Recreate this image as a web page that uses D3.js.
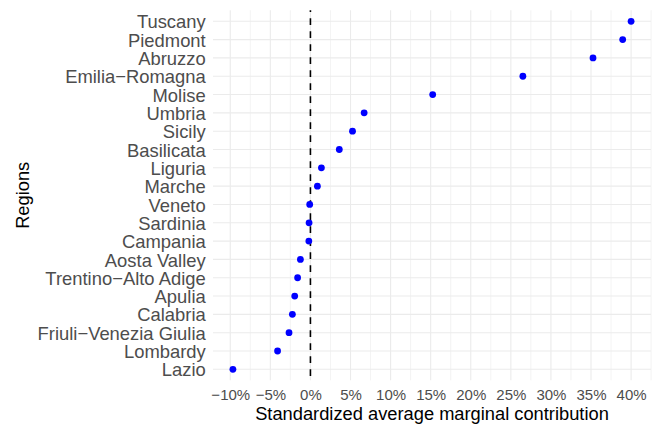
<!DOCTYPE html>
<html>
<head>
<meta charset="utf-8">
<script src="https://cdn.jsdelivr.net/npm/d3@7"></script>
<style>
  body { margin: 0; background: #fff; }
  text { font-family: "Liberation Sans", Arial, sans-serif; }
</style>
</head>
<body>
<svg width="657" height="427"></svg>
<script>
// regions, top to bottom
var regions = ["Tuscany", "Piedmont", "Abruzzo", "Emilia\u2212Romagna", "Molise", "Umbria",
  "Sicily", "Basilicata", "Liguria", "Marche", "Veneto", "Sardinia", "Campania",
  "Aosta Valley", "Trentino\u2212Alto Adige", "Apulia", "Calabria",
  "Friuli\u2212Venezia Giulia", "Lombardy", "Lazio"];

// standardized average marginal contribution (%)
var contribution = [40.0, 38.95, 35.25, 26.5, 15.25, 6.7, 5.25, 3.6, 1.37, 0.87,
  -0.09, -0.17, -0.2, -1.25, -1.6, -1.96, -2.25, -2.67, -4.1, -9.67];

// x axis ticks (%)
var xTicks = [-10, -5, 0, 5, 10, 15, 20, 25, 30, 35, 40];

var svg = d3.select("svg");

// panel box
var pLeft = 213, pRight = 651, pTop = 10.3, pBottom = 380.3;

// ggplot style 5% expansion
var ext = d3.extent(contribution);
var pad = (ext[1] - ext[0]) * 0.05;
var x = d3.scaleLinear()
    .domain([ext[0] - pad, ext[1] + pad])
    .range([pLeft, pRight]);

var y = d3.scalePoint()
    .domain(regions)
    .range([pTop, pBottom])
    .padding(0.6);

var grid = svg.append("g").attr("class", "grid");

// minor vertical grid lines
var minor = d3.range(-12.5, 45, 2.5).filter(function(d) {
  return xTicks.indexOf(d) < 0 && x(d) >= pLeft - 0.5 && x(d) <= pRight + 0.5;
});
grid.selectAll("line.minor")
  .data(minor)
  .enter().append("line")
    .attr("class", "minor")
    .attr("x1", function(d) { return x(d); })
    .attr("x2", function(d) { return x(d); })
    .attr("y1", pTop).attr("y2", pBottom)
    .attr("stroke", "#ebebeb")
    .attr("stroke-width", 0.6);

// major vertical grid lines
grid.selectAll("line.majorx")
  .data(xTicks)
  .enter().append("line")
    .attr("class", "majorx")
    .attr("x1", function(d) { return x(d); })
    .attr("x2", function(d) { return x(d); })
    .attr("y1", pTop).attr("y2", pBottom)
    .attr("stroke", "#ebebeb")
    .attr("stroke-width", 1.1);

// horizontal grid lines
grid.selectAll("line.majory")
  .data(regions)
  .enter().append("line")
    .attr("class", "majory")
    .attr("x1", pLeft).attr("x2", pRight)
    .attr("y1", function(d) { return y(d); })
    .attr("y2", function(d) { return y(d); })
    .attr("stroke", "#ebebeb")
    .attr("stroke-width", 1.1);

// dashed zero line
svg.append("line")
    .attr("x1", x(0)).attr("x2", x(0))
    .attr("y1", pTop).attr("y2", pBottom)
    .attr("stroke", "#000")
    .attr("stroke-width", 1.6)
    .attr("stroke-dasharray", "6.7,6.3")
    .attr("stroke-dashoffset", 5);

// points
svg.append("g")
  .selectAll("circle")
  .data(regions)
  .enter().append("circle")
    .attr("cx", function(d, i) { return x(contribution[i]); })
    .attr("cy", function(d) { return y(d); })
    .attr("r", 3.4)
    .attr("fill", "#0000ff");

// y axis labels
var yAxis = d3.axisLeft(y).tickSize(0).tickPadding(7.3);
var gy = svg.append("g")
    .attr("transform", "translate(" + pLeft + ",0)")
    .call(yAxis);
gy.select(".domain").remove();
gy.selectAll("text")
    .attr("fill", "#4d4d4d")
    .style("font-size", "18.4px")
    .attr("dy", "0.36em");

// x axis labels
var xAxis = d3.axisBottom(x)
    .tickValues(xTicks)
    .tickSize(0)
    .tickFormat(function(d) { return (d < 0 ? "\u2212" : "") + Math.abs(d) + "%"; });
var gx = svg.append("g")
    .attr("transform", "translate(0," + pBottom + ")")
    .call(xAxis);
gx.select(".domain").remove();
gx.selectAll("text")
    .attr("fill", "#4d4d4d")
    .style("font-size", "15px")
    .attr("y", 19.7)
    .attr("dy", null);

// axis titles
svg.append("text")
    .attr("x", (pLeft + pRight) / 2)
    .attr("y", 419.6)
    .attr("text-anchor", "middle")
    .style("font-size", "18.3px")
    .attr("fill", "#000")
    .text("Standardized average marginal contribution");

svg.append("text")
    .attr("transform", "translate(29," + ((pTop + pBottom) / 2) + ") rotate(-90)")
    .attr("text-anchor", "middle")
    .style("font-size", "18.3px")
    .attr("fill", "#000")
    .text("Regions");
</script>
</body>
</html>
